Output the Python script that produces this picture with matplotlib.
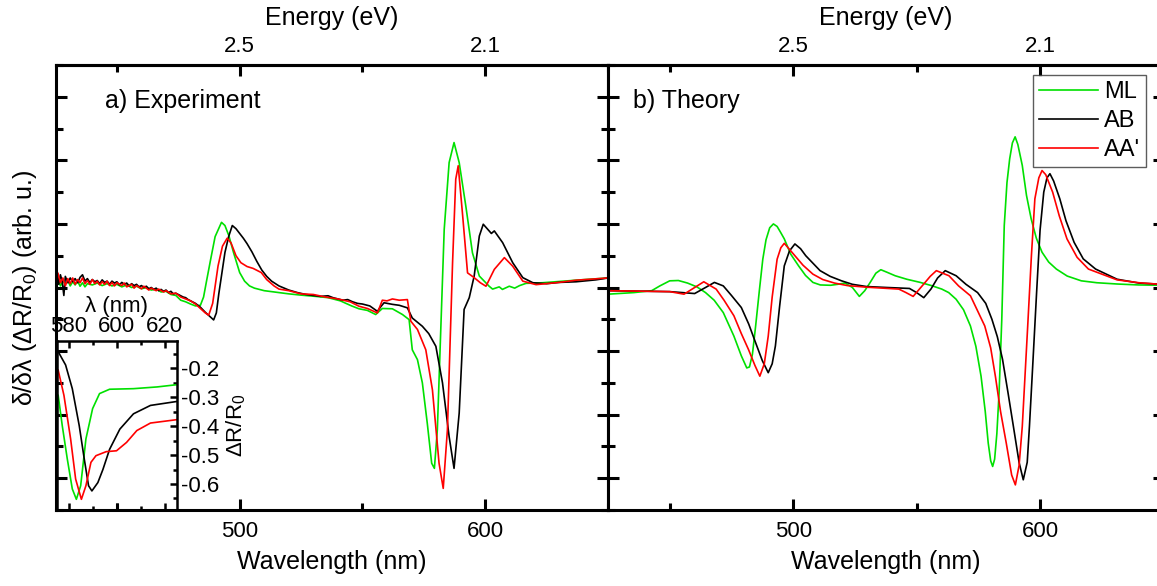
import matplotlib
matplotlib.use('Agg')
import matplotlib.pyplot as plt
from matplotlib.ticker import MultipleLocator, FixedLocator, FuncFormatter

plt.rcParams['font.family'] = ['Liberation Sans', 'DejaVu Sans']
plt.rcParams['mathtext.fontset'] = 'custom'
plt.rcParams['mathtext.rm'] = 'Liberation Sans'
plt.rcParams['axes.unicode_minus'] = False

GREEN = '#00e000'
RED = '#ff0000'
BLACK = '#000000'

# ---- a) experiment : wavelength (nm) / signal (arb. u.)
exp_ab_wl = [425.0, 425.6, 426.3, 427.0, 427.7, 428.4, 429.0, 430, 431, 432, 433, 434, 435, 436, 437,
             438, 439, 440, 441, 442, 443, 444, 445, 446, 447, 448, 449, 450, 451, 452, 453, 454,
             455, 456, 457, 458, 459, 460, 461, 462, 463, 464, 465, 466, 467, 468, 469, 470, 471,
             472, 473, 474, 475, 476, 477, 478, 479, 480, 482, 484, 486, 488, 489.4, 490.5, 491.5,
             492.6, 494, 495.5, 497, 498.5, 500, 501.5, 503, 505, 507, 509, 511, 513, 516, 520,
             523.5, 527, 530, 533, 536, 538, 540, 542, 544, 546, 548, 550, 553, 556.1, 557.5,
             558.8, 562.2, 565, 568.3, 570.3, 574.4, 577, 579.9, 582.6, 585.3, 587.3, 589.4,
             591.4, 593.5, 595.5, 597.6, 599.2, 601.6, 602.5, 603.7, 607.1, 611.2, 615.3, 619.4,
             625, 630, 637, 645, 650]
exp_ab = [0.30, 0.55, 0.10, 0.40, 0.20, -0.25, 0.35, 0.15, 0.30, 0.18, 0.28, 0.15, 0.32, 0.40, 0.20,
          0.28, 0.15, 0.25, 0.18, 0.22, 0.12, 0.24, 0.16, 0.20, 0.10, 0.20, 0.14, 0.18, 0.08, 0.16,
          0.10, 0.14, 0.05, 0.12, 0.06, 0.10, 0.02, 0.06, 0.00, 0.04, -0.04, 0.00, -0.06, -0.02,
          -0.10, -0.06, -0.12, -0.08, -0.16, -0.12, -0.20, -0.18, -0.22, -0.26, -0.30, -0.32, -0.38,
          -0.42, -0.50, -0.62, -0.78, -0.92, -1.02, -0.80, -0.20, 0.37, 1.10, 1.60, 1.95, 1.85, 1.70,
          1.55, 1.38, 1.12, 0.82, 0.55, 0.35, 0.20, 0.05, -0.08, -0.16, -0.22, -0.25, -0.28, -0.26,
          -0.32, -0.36, -0.40, -0.38, -0.45, -0.50, -0.52, -0.58, -0.75, -0.60, -0.48, -0.53, -0.56,
          -0.64, -0.96, -1.22, -1.45, -1.85, -3.00, -4.69, -5.69, -3.95, -0.69, -0.32, 0.36, 1.62,
          1.99, 1.78, 1.70, 1.78, 1.41, 0.78, 0.31, 0.15, 0.12, 0.16, 0.18, 0.24, 0.30]

exp_ml_wl = [425, 426, 427, 428, 429, 430, 431, 432, 433, 434, 435, 436, 437, 438, 440, 442, 444,
             446, 448, 450, 452, 454, 456, 458, 460, 462, 464, 466, 468, 470, 472, 474, 476, 478,
             480, 482, 484, 485.3, 486.5, 488.2, 490, 492.6, 494, 495.6, 497.5, 500, 502, 504, 506,
             510, 516, 520, 525, 531, 536, 541, 545.6, 548.6, 552, 555.4, 558.1, 562.2, 566.3, 569,
             570.3, 572.4, 574.4, 576.4, 578.2, 579.3, 580.5, 581.9, 583.3, 585.3, 587.3, 589.4,
             592.1, 594.8, 597.6, 601.6, 603, 605.7, 607, 609.8, 612, 614, 616.6, 623.4, 637, 650]
exp_ml = [0.15, 0.30, 0.05, 0.20, 0.10, 0.22, 0.05, 0.18, 0.08, 0.20, 0.04, 0.15, 0.02, 0.12, 0.08,
          0.14, 0.06, 0.12, 0.05, 0.10, 0.02, 0.08, 0.00, 0.04, -0.04, 0.00, -0.08, -0.05, -0.14,
          -0.12, -0.22, -0.25, -0.40, -0.45, -0.52, -0.58, -0.56, -0.30, 0.20, 0.89, 1.60, 2.05,
          1.95, 1.63, 1.10, 0.47, 0.20, 0.05, -0.02, -0.10, -0.16, -0.20, -0.24, -0.28, -0.32, -0.42,
          -0.58, -0.67, -0.72, -0.85, -0.66, -0.67, -0.85, -1.01, -1.96, -2.27, -3.00, -4.27, -5.53,
          -5.69, -4.48, -1.32, 1.83, 3.93, 4.56, 3.93, 2.56, 1.09, 0.36, 0.04, -0.05, 0.02, -0.06,
          0.04, -0.02, 0.06, 0.13, 0.15, 0.23, 0.30]

exp_aa_wl = [425, 426, 427, 428, 429, 430, 431, 432, 433, 434, 435, 436, 437, 438, 439, 440, 441,
             442, 443, 444, 445, 446, 447, 448, 449, 450, 452, 453, 454, 456, 457, 458, 460, 461,
             463, 464, 466, 467, 469, 470, 472, 474, 476, 478, 480, 482, 484, 486, 487.4, 489,
             491.2, 493, 494.9, 496.5, 498.5, 500.5, 503, 505.5, 508.8, 511, 514, 516, 520, 525,
             530, 535, 540, 545, 548.6, 552, 556.1, 558.1, 560, 562.2, 565, 568.3, 569.7, 572.4,
             575.8, 578.5, 581.2, 582.9, 584.6, 586.7, 588, 589, 590.7, 592.8, 595.5, 598, 600.3,
             603.7, 607.8, 611.2, 615.3, 620.7, 630, 637, 650]
exp_aa = [0.20, 0.45, 0.15, 0.30, 0.05, 0.28, 0.12, 0.30, 0.10, 0.25, 0.15, 0.30, 0.12, 0.22, 0.10,
          0.25, 0.12, 0.20, 0.08, 0.18, 0.10, 0.20, 0.06, 0.16, 0.05, 0.15, 0.06, 0.14, 0.02, 0.10,
          -0.02, 0.06, -0.04, 0.04, -0.08, -0.02, -0.10, -0.05, -0.14, -0.10, -0.20, -0.18, -0.30,
          -0.36, -0.42, -0.52, -0.66, -0.80, -0.87, -0.50, 0.68, 1.30, 1.55, 1.40, 1.00, 0.78, 0.66,
          0.60, 0.47, 0.25, 0.05, -0.05, -0.10, -0.20, -0.22, -0.30, -0.36, -0.45, -0.59, -0.66,
          -0.80, -0.40, -0.42, -0.36, -0.40, -0.38, -1.06, -1.32, -1.96, -3.22, -5.53, -6.32, -4.48,
          0.78, 3.41, 3.83, 2.36, 0.46, 0.31, 0.15, 0.04, 0.57, 0.94, 0.67, 0.20, 0.09, 0.16, 0.23,
          0.30]

# ---- b) theory
th_ml_wl = [425, 435.5, 442.7, 446, 450, 453.5, 457.2, 461, 464.5, 468, 471.7, 476, 479, 481.2,
            482.3, 483.5, 484.8, 486.3, 487.7, 489, 490.5, 492, 493.5, 494.8, 496.4, 499, 502.2,
            505, 508, 511, 515.2, 518, 521, 524, 526.8, 529, 531.2, 533.5, 535.5, 538, 541.3,
            546, 551.5, 556, 560.2, 563, 566, 569, 571.8, 574, 576.1, 577.8, 579, 580, 580.8,
            581.6, 582.5, 583.4, 584.5, 585.5, 586.6, 587.7, 588.8, 589.9, 591, 592.8, 594.5,
            596.4, 598.5, 600.8, 603.5, 606.6, 611, 616.7, 623, 631.2, 640, 650]
th_ml = [-0.21, -0.16, -0.10, 0.05, 0.21, 0.22, 0.14, 0.02, -0.16, -0.40, -0.79, -1.53, -2.15,
         -2.53, -2.50, -2.10, -1.21, -0.10, 0.89, 1.50, 1.88, 2.00, 1.92, 1.75, 1.53, 1.05, 0.68,
         0.38, 0.16, 0.08, 0.07, 0.10, 0.14, 0.00, -0.28, -0.10, 0.16, 0.45, 0.56, 0.48, 0.37,
         0.26, 0.16, 0.06, -0.05, -0.16, -0.37, -0.70, -1.21, -1.85, -2.79, -3.90, -4.89, -5.45,
         -5.63, -5.40, -4.60, -3.32, -1.00, 1.95, 3.30, 4.05, 4.55, 4.74, 4.50, 3.84, 2.90,
         2.16, 1.55, 1.11, 0.80, 0.58, 0.36, 0.21, 0.15, 0.11, 0.08, 0.07]

th_ab_wl = [425, 450, 460.1, 464.5, 468.1, 471.7, 475, 479, 482, 484.8, 487.5, 489.9, 491.5, 492.8,
            494.5, 496.4, 498.5, 500.7, 503, 505.1, 510.9, 515, 519.6, 524, 529.7, 538, 547.1,
            550, 552.9, 555.8, 558.5, 561.6, 566, 570, 574.7, 578, 580.5, 582.7, 584.8, 587,
            589.2, 591.5, 593.2, 594.8, 595.7, 597, 598.6, 600, 601.5, 602.8, 604, 605.5, 608,
            610.5, 613.8, 617.5, 622.5, 631.2, 640, 647, 650]
th_ab = [-0.10, -0.13, -0.19, 0.00, 0.16, 0.05, -0.25, -0.63, -1.15, -1.74, -2.30, -2.68, -2.40,
         -1.84, -0.60, 0.68, 1.15, 1.37, 1.22, 1.00, 0.53, 0.35, 0.21, 0.10, 0.03, 0.00, -0.03,
         -0.16, -0.32, -0.05, 0.30, 0.53, 0.37, 0.10, -0.16, -0.50, -1.00, -1.55, -2.26, -3.30,
         -4.37, -5.50, -6.05, -5.50, -4.37, -2.50, -0.16, 1.80, 3.00, 3.45, 3.58, 3.35, 2.79,
         2.10, 1.42, 0.90, 0.58, 0.26, 0.14, 0.11, 0.10]

th_aa_wl = [425, 450, 455.8, 460.1, 463.8, 468.8, 472, 476, 479, 481.9, 484.5, 486.5, 488.3, 489.9,
            491.5, 493.5, 495, 496.4, 498.5, 500.7, 504, 508, 512, 516.7, 522, 529.7, 542.8, 545.7,
            548.6, 552.9, 555.5, 558, 563.1, 567, 571.8, 577.6, 580, 581.9, 584, 586.3, 588.5,
            590, 591.5, 592.8, 595, 596.5, 597.9, 599.5, 600.8, 602.3, 605.1, 607.8, 610.9,
            615, 619.6, 631.2, 640, 647, 650]
th_aa = [-0.10, -0.13, -0.21, 0.00, 0.18, -0.05, -0.40, -0.89, -1.45, -1.95, -2.45, -2.79, -2.40,
         -1.53, -0.30, 0.89, 1.25, 1.39, 1.20, 1.00, 0.70, 0.42, 0.25, 0.14, 0.06, 0.01, -0.05,
         -0.16, -0.28, 0.11, 0.35, 0.53, 0.37, 0.05, -0.26, -1.21, -1.90, -2.79, -3.90, -4.89,
         -5.90, -6.21, -5.60, -4.37, -1.21, 1.00, 2.79, 3.45, 3.68, 3.55, 3.00, 2.25, 1.53, 0.95,
         0.58, 0.24, 0.15, 0.11, 0.10]

# ---- inset : dR/R near the A exciton
ins_ml_wl = [575.5, 577.2, 579.3, 581.4, 583.1, 584.9, 587.1, 589.9, 592.8, 597, 607, 616.9, 625.4]
ins_ml = [-0.293, -0.398, -0.513, -0.617, -0.653, -0.606, -0.444, -0.339, -0.287, -0.272, -0.270,
          -0.264, -0.256]
ins_ab_wl = [575.5, 578.6, 581.4, 584.3, 586.4, 588.2, 589.6, 592.1, 594.2, 597, 601.3, 607, 614.1,
             625.4]
ins_ab = [-0.142, -0.188, -0.270, -0.398, -0.513, -0.606, -0.624, -0.595, -0.550, -0.480, -0.410,
          -0.357, -0.328, -0.314]
ins_aa_wl = [575.5, 577.9, 580.7, 582.8, 585.2, 587.1, 589.2, 591.3, 595.6, 599.9, 604.1, 608.4,
             614.1, 625.4]
ins_aa = [-0.206, -0.293, -0.444, -0.583, -0.653, -0.606, -0.525, -0.502, -0.488, -0.485, -0.456,
          -0.415, -0.389, -0.377]

wl_major = [500, 600]
wl_minor = [450, 550, 650]
energy_fmt = FuncFormatter(lambda x, p: '%.1f' % (1239.84 / x))

W, H = 1157, 586
fig = plt.figure(figsize=(W / 100, H / 100), dpi=100)


def box(x0, y0, x1, y1):
    return [x0 / W, 1 - y1 / H, (x1 - x0) / W, (y1 - y0) / H]


ax_exp = fig.add_axes(box(55.5, 65, 608, 510))
ax_th = fig.add_axes(box(608, 65, 1163.5, 510))

for ax in (ax_exp, ax_th):
    ax.set_xlim(425, 650)
    ax.set_ylim(-7, 7)
    for s in ax.spines.values():
        s.set_linewidth(2.2)
    ax.xaxis.set_major_locator(FixedLocator(wl_major))
    ax.xaxis.set_minor_locator(FixedLocator(wl_minor))
    ax.yaxis.set_major_locator(MultipleLocator(2))
    ax.yaxis.set_minor_locator(MultipleLocator(1))
    ax.tick_params(which='both', direction='in', left=True, right=True, top=False,
                   labelleft=False, width=2.2, labelsize=16, pad=8)
    ax.tick_params(which='major', length=8)
    ax.tick_params(which='minor', length=5)
    ax.set_xlabel('Wavelength (nm)', fontsize=18, labelpad=6)
    sec = ax.secondary_xaxis('top')
    sec.xaxis.set_major_locator(FixedLocator(wl_major))
    sec.xaxis.set_minor_locator(FixedLocator(wl_minor))
    sec.xaxis.set_major_formatter(energy_fmt)
    sec.tick_params(which='both', direction='in', width=2.2, labelsize=16, pad=6)
    sec.tick_params(which='major', length=8)
    sec.tick_params(which='minor', length=5)
    sec.spines['top'].set_linewidth(2.2)
    sec.set_xlabel('Energy (eV)', fontsize=18, labelpad=8)

ax_exp.plot(exp_ml_wl, exp_ml, color=GREEN, lw=1.2)
ax_exp.plot(exp_ab_wl, exp_ab, color=BLACK, lw=1.2)
ax_exp.plot(exp_aa_wl, exp_aa, color=RED, lw=1.2)
ax_exp.set_ylabel(r'δ/δλ (ΔR/R$\mathregular{_0}$) (arb. u.)', fontsize=18, labelpad=12)
ax_exp.text(0.09, 0.92, 'a) Experiment', transform=ax_exp.transAxes, fontsize=18, va='center')

ax_th.plot(th_ml_wl, th_ml, color=GREEN, lw=1.2, label='ML')
ax_th.plot(th_ab_wl, th_ab, color=BLACK, lw=1.2, label='AB')
ax_th.plot(th_aa_wl, th_aa, color=RED, lw=1.2, label="AA'")
ax_th.text(0.045, 0.92, 'b) Theory', transform=ax_th.transAxes, fontsize=18, va='center')
leg = ax_th.legend(loc='upper right', bbox_to_anchor=(0.968, 0.977), fontsize=17, frameon=True,
                   fancybox=False, handlelength=2.5, handletextpad=0.25, labelspacing=0.3,
                   borderpad=0.25, borderaxespad=0)
leg.get_frame().set_edgecolor('#333333')
leg.get_frame().set_linewidth(1.0)

# inset
ax_in = fig.add_axes(box(57, 341, 176.5, 510))
ax_in.patch.set_alpha(0)
ax_in.plot(ins_ml_wl, ins_ml, color=GREEN, lw=1.2)
ax_in.plot(ins_ab_wl, ins_ab, color=BLACK, lw=1.2)
ax_in.plot(ins_aa_wl, ins_aa, color=RED, lw=1.2)
ax_in.set_xlim(575, 625)
ax_in.set_ylim(-0.69, -0.105)
for s in ax_in.spines.values():
    s.set_linewidth(1.8)
ax_in.xaxis.set_major_locator(MultipleLocator(20))
ax_in.xaxis.set_minor_locator(MultipleLocator(10))
ax_in.yaxis.set_major_locator(MultipleLocator(0.1))
ax_in.yaxis.set_minor_locator(MultipleLocator(0.05))
ax_in.yaxis.set_major_formatter(FuncFormatter(lambda y, p: '%.1f' % y))
ax_in.tick_params(which='both', direction='in', top=True, bottom=True, left=False, right=True,
                  labeltop=True, labelbottom=False, labelleft=False, labelright=True,
                  width=1.8, labelsize=16, pad=3)
ax_in.tick_params(which='major', length=5)
ax_in.tick_params(which='minor', length=3)
ax_in.xaxis.set_label_position('top')
ax_in.yaxis.set_label_position('right')
ax_in.set_xlabel('λ (nm)', fontsize=16, labelpad=3)
ax_in.set_ylabel(r'ΔR/R$\mathregular{_0}$', fontsize=16, labelpad=4)

fig.savefig('out.png', dpi=100)
